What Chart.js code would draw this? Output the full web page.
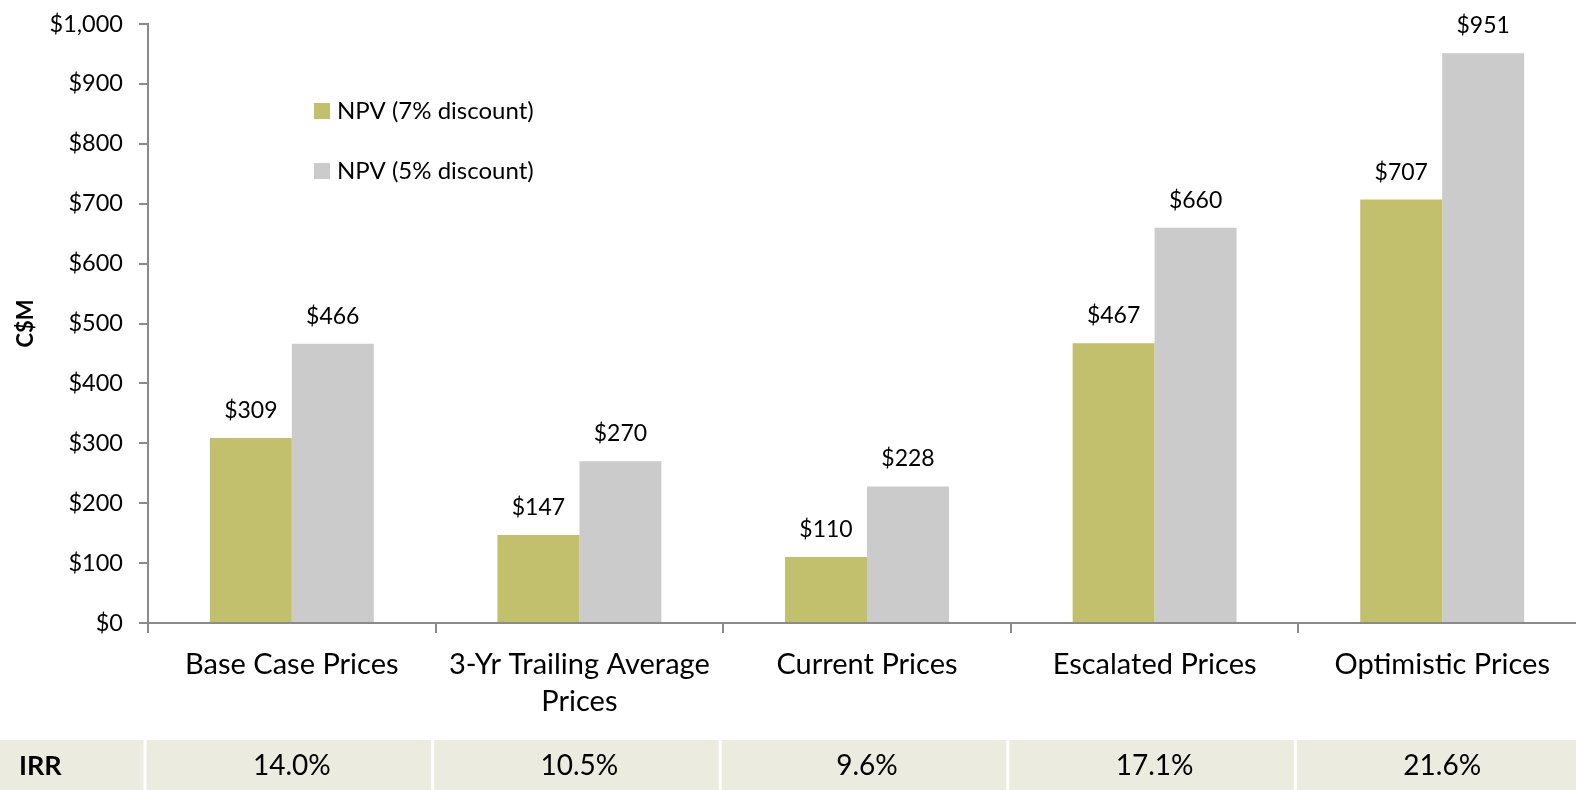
<!DOCTYPE html>
<html>
<head>
<meta charset="utf-8">
<script src="https://cdn.jsdelivr.net/npm/chart.js@4.4.1/dist/chart.umd.min.js"></script>
<style>
  html, body { margin: 0; padding: 0; overflow: hidden; background: #fff; }
  #wrap { width: 1586px; height: 790px; }
</style>
</head>
<body>
<div id="wrap"><canvas id="npvChart" width="1586" height="790"></canvas></div>
<script>
const categories = ['Base Case Prices', ['3-Yr Trailing Average', 'Prices'], 'Current Prices', 'Escalated Prices', 'Optimistic Prices'];
const npv7 = [309, 147, 110, 467, 707];
const npv5 = [466, 270, 228, 660, 951];
const irr = [14.0, 10.5, 9.6, 17.1, 21.6];

const FONT = 'Lato, "Open Sans", sans-serif';
const green = '#C2C06D';
const grey = '#CBCBCB';

// value labels above each bar
const barLabels = {
    id: 'barLabels',
    afterDatasetsDraw(chart) {
        const ctx = chart.ctx;
        ctx.save();
        ctx.font = '23px ' + FONT;
        ctx.fillStyle = '#000';
        ctx.textAlign = 'center';
        ctx.textBaseline = 'alphabetic';
        chart.data.datasets.forEach((ds, i) => {
            chart.getDatasetMeta(i).data.forEach((bar, j) => {
                ctx.fillText('$' + ds.data[j], bar.x, bar.y - 20);
            });
        });
        ctx.restore();
    }
};

// legend sitting inside the plot
const innerLegend = {
    id: 'innerLegend',
    afterDraw(chart) {
        const ctx = chart.ctx;
        const area = chart.chartArea;
        ctx.save();
        ctx.font = '24px ' + FONT;
        ctx.textBaseline = 'middle';
        chart.data.datasets.forEach((ds, i) => {
            const x = area.left + 166;
            const y = area.top + 87 + i * 60;
            ctx.fillStyle = ds.backgroundColor;
            ctx.fillRect(x, y - 8, 16, 16);
            ctx.fillStyle = '#000';
            ctx.fillText(ds.label, x + 23, y);
        });
        ctx.restore();
    }
};

// IRR row under the axis
const irrRow = {
    id: 'irrRow',
    afterDraw(chart) {
        const ctx = chart.ctx;
        const xs = chart.scales.x;
        const area = chart.chartArea;
        const top = 740, h = chart.height - top;
        const w = (area.right - area.left) / categories.length;
        ctx.save();
        ctx.fillStyle = '#EBEBDF';
        ctx.fillRect(0, top, chart.width, h);
        ctx.strokeStyle = '#fff';
        ctx.lineWidth = 3;
        for (let i = 0; i <= categories.length; i++) {
            const x = area.left - 3 + i * w;
            ctx.beginPath();
            ctx.moveTo(x, top);
            ctx.lineTo(x, chart.height);
            ctx.stroke();
        }
        ctx.fillStyle = '#000';
        ctx.textBaseline = 'middle';
        ctx.font = 'bold 27px ' + FONT;
        ctx.textAlign = 'left';
        ctx.fillText('IRR', 19, top + h / 2 + 1);
        ctx.font = '28px ' + FONT;
        ctx.textAlign = 'center';
        irr.forEach((v, i) => {
            ctx.fillText(v.toFixed(1) + '%', xs.getPixelForValue(i), top + h / 2 + 1);
        });
        ctx.restore();
    }
};

new Chart(document.getElementById('npvChart').getContext('2d'), {
    type: 'bar',
    data: {
        labels: categories,
        datasets: [
            { label: 'NPV (7% discount)', data: npv7, backgroundColor: green },
            { label: 'NPV (5% discount)', data: npv5, backgroundColor: grey }
        ]
    },
    options: {
        responsive: false,
        animation: false,
        layout: { padding: { top: 24, left: 0, right: 0, bottom: 0 } },
        datasets: { bar: { categoryPercentage: 0.57, barPercentage: 1.0 } },
        plugins: { legend: { display: false }, tooltip: { enabled: false } },
        scales: {
            x: {
                offset: true,
                grid: { offset: true, drawOnChartArea: false, drawTicks: true, tickLength: 10, color: '#8a8a8a', lineWidth: 2 },
                border: { color: '#8a8a8a', width: 2 },
                ticks: {
                    autoSkip: false, maxRotation: 0, color: '#000', padding: 13,
                    font: { family: FONT, size: 29, lineHeight: 1.28 }
                },
                afterFit: (s) => { s.height = 167; }
            },
            y: {
                min: 0, max: 1000,
                grid: { drawOnChartArea: false, drawTicks: true, tickLength: 9, color: '#8a8a8a', lineWidth: 2 },
                border: { color: '#8a8a8a', width: 2 },
                ticks: {
                    stepSize: 100, color: '#000', padding: 16,
                    font: { family: FONT, size: 23.5, lineHeight: 0.4 },
                    callback: (v) => '$' + v.toLocaleString('en-US')
                },
                title: {
                    display: true, text: 'C$M', color: '#000',
                    font: { family: FONT, size: 22, weight: 'bold' },
                    padding: { top: 13, bottom: 0 }
                },
                afterFit: (s) => { s.width = 148; }
            }
        }
    },
    plugins: [barLabels, innerLegend, irrRow]
});
</script>
</body>
</html>
